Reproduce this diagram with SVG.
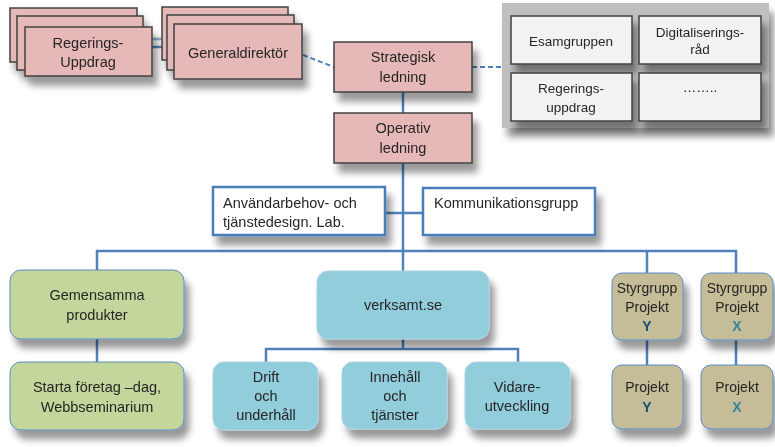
<svg xmlns="http://www.w3.org/2000/svg" width="775" height="447" viewBox="0 0 775 447">
<defs>
<filter id="sh" x="-20%" y="-20%" width="150%" height="160%">
<feDropShadow dx="5" dy="9" stdDeviation="3.5" flood-color="#000" flood-opacity="0.4"/>
</filter>
<style>
text{font-family:"Liberation Sans",Arial,sans-serif;font-size:14.5px;fill:#262626;text-anchor:middle}
.l{text-anchor:start}
.s{font-size:13.5px}
.k{font-size:14px}
.pink{fill:#e6b8b7;stroke:#404040;stroke-width:1.5}
.gr{fill:#f2f2f2;stroke:#404040;stroke-width:1.5}
.wb{fill:#fff;stroke:#4a7ebb;stroke-width:2.5}
.green{fill:#c3d69b;stroke:#5b8cc8;stroke-width:1}
.blue{fill:#92cddc;stroke:#a9d2e6;stroke-width:1}
.kh{fill:#c4bd97;stroke:#5b8cc8;stroke-width:1}
.c{fill:none;stroke:#4f81bd;stroke-width:2.5}
.d{fill:none;stroke:#4f81bd;stroke-width:2;stroke-dasharray:5 3}
.y{fill:#1f4e79;font-weight:bold}
.x{fill:#31859c;font-weight:bold}
</style>
</defs>
<g id="connectors">
<line x1="152" y1="39" x2="174" y2="39" style="stroke:#95b3d7;stroke-width:2.5"/>
<line class="c" x1="152" y1="47" x2="174" y2="47"/>
<line class="d" x1="303" y1="55" x2="334" y2="67"/>
<line class="d" x1="472" y1="67" x2="502" y2="67"/>
<line class="c" x1="403" y1="92" x2="403" y2="113"/>
<line class="c" x1="403" y1="163" x2="403" y2="251"/>
<line class="c" x1="385" y1="213" x2="423" y2="213"/>
<polyline class="c" points="97,270 97,251 736,251 736,273"/>
<line class="c" x1="403" y1="251" x2="403" y2="271"/>
<line class="c" x1="647" y1="251" x2="647" y2="273"/>
<line class="c" x1="97" y1="339" x2="97" y2="362"/>
<polyline class="c" points="266,362 266,349 518,349 518,362"/>
<line class="c" x1="403" y1="339" x2="403" y2="349"/>
<line class="c" x1="647" y1="340" x2="647" y2="365"/>
<line class="c" x1="736" y1="340" x2="736" y2="365"/>
</g>
<g id="regeringsuppdrag" filter="url(#sh)">
<rect class="pink" x="10" y="8" width="127" height="54"/>
<rect class="pink" x="17" y="16" width="126" height="54"/>
<rect class="pink" x="25" y="27" width="127" height="49"/>
<text x="88" y="48">Regerings-</text>
<text x="88" y="67">Uppdrag</text>
</g>
<g id="generaldirektor" filter="url(#sh)">
<rect class="pink" x="162" y="7" width="126" height="53"/>
<rect class="pink" x="167" y="15" width="127" height="55"/>
<rect class="pink" x="174" y="24" width="128" height="55"/>
<text x="238" y="58">Generaldirektör</text>
</g>
<g id="strategisk" filter="url(#sh)">
<rect class="pink" x="334" y="42" width="138" height="50"/>
<text x="403" y="62">Strategisk</text>
<text x="403" y="82">ledning</text>
</g>
<g id="operativ" filter="url(#sh)">
<rect class="pink" x="334" y="113" width="138" height="50"/>
<text x="403" y="133">Operativ</text>
<text x="403" y="153">ledning</text>
</g>
<g id="panel">
<rect x="502" y="3" width="267" height="125" fill="#bfbfbf" filter="url(#sh)"/>
<g id="esamgruppen" filter="url(#sh)"><rect class="gr" x="511" y="16" width="121" height="48"/><text class="s" x="571" y="46">Esamgruppen</text></g>
<g id="digitaliseringsrad" filter="url(#sh)"><rect class="gr" x="639" y="16" width="122" height="48"/><text class="s" x="700" y="37">Digitaliserings-</text><text class="s" x="700" y="54">råd</text></g>
<g id="regeringsuppdrag2" filter="url(#sh)"><rect class="gr" x="511" y="73" width="121" height="48"/><text class="s" x="571" y="93">Regerings-</text><text class="s" x="571" y="112">uppdrag</text></g>
<g id="dots" filter="url(#sh)"><rect class="gr" x="639" y="73" width="122" height="48"/><text class="s" x="700" y="92">……..</text></g>
</g>
<g id="anvandarbehov" filter="url(#sh)">
<rect class="wb" x="213" y="187" width="172" height="48"/>
<text class="l" x="223" y="208">Användarbehov- och</text>
<text class="l" x="223" y="227">tjänstedesign. Lab.</text>
</g>
<g id="kommunikationsgrupp" filter="url(#sh)">
<rect class="wb" x="423" y="188" width="172" height="47"/>
<text class="l" x="434" y="208">Kommunikationsgrupp</text>
</g>
<g id="gemensamma" filter="url(#sh)">
<rect class="green" x="10" y="270" width="174" height="69" rx="11"/>
<text x="97" y="300">Gemensamma</text>
<text x="97" y="320">produkter</text>
</g>
<g id="starta" filter="url(#sh)">
<rect class="green" x="10" y="362" width="174" height="68" rx="11"/>
<text x="97" y="392">Starta företag –dag,</text>
<text x="97" y="412">Webbseminarium</text>
</g>
<g id="verksamt" filter="url(#sh)">
<rect class="blue" x="317" y="271" width="172" height="68" rx="11"/>
<text x="403" y="310">verksamt.se</text>
</g>
<g id="drift" filter="url(#sh)">
<rect class="blue" x="213" y="362" width="105" height="68" rx="11"/>
<text x="266" y="382">Drift</text>
<text x="266" y="401">och</text>
<text x="266" y="420">underhåll</text>
</g>
<g id="innehall" filter="url(#sh)">
<rect class="blue" x="342" y="362" width="105" height="67" rx="11"/>
<text x="395" y="382">Innehåll</text>
<text x="395" y="401">och</text>
<text x="395" y="420">tjänster</text>
</g>
<g id="vidare" filter="url(#sh)">
<rect class="blue" x="465" y="362" width="105" height="67" rx="11"/>
<text x="517" y="392">Vidare-</text>
<text x="517" y="411">utveckling</text>
</g>
<g id="styrgruppY" filter="url(#sh)">
<rect class="kh" x="612" y="273" width="71" height="67" rx="10"/>
<text class="k" x="647" y="293">Styrgrupp</text>
<text class="k" x="647" y="312">Projekt</text>
<text class="k y" x="647" y="331">Y</text>
</g>
<g id="styrgruppX" filter="url(#sh)">
<rect class="kh" x="701" y="273" width="72" height="67" rx="10"/>
<text class="k" x="737" y="293">Styrgrupp</text>
<text class="k" x="737" y="312">Projekt</text>
<text class="k x" x="737" y="331">X</text>
</g>
<g id="projektY" filter="url(#sh)">
<rect class="kh" x="612" y="365" width="71" height="64" rx="10"/>
<text class="k" x="647" y="392">Projekt</text>
<text class="k y" x="647" y="412">Y</text>
</g>
<g id="projektX" filter="url(#sh)">
<rect class="kh" x="701" y="365" width="72" height="64" rx="10"/>
<text class="k" x="737" y="392">Projekt</text>
<text class="k x" x="737" y="412">X</text>
</g>
</svg>
